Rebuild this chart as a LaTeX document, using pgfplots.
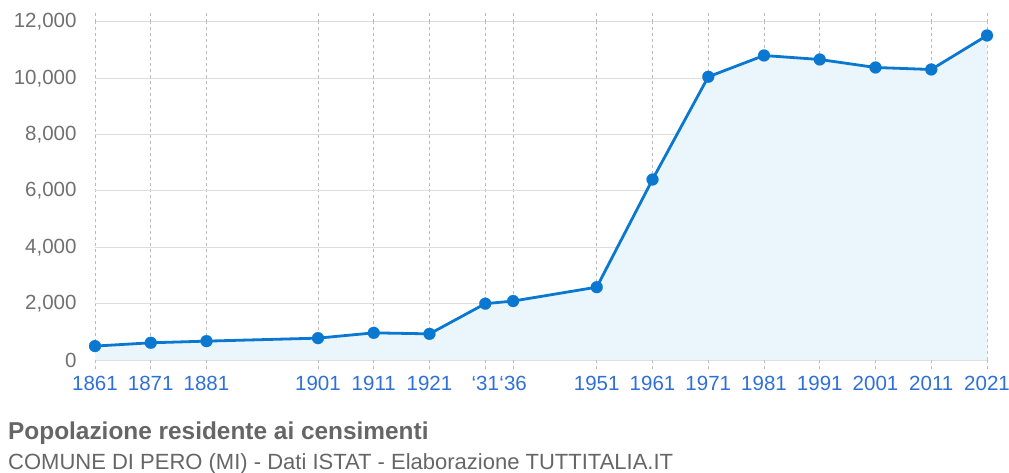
\documentclass[border=0pt]{standalone}
\usepackage{pgfplots}
\pgfplotsset{compat=1.18}
\usepackage{fontspec}
\setmainfont{Liberation Sans}
\definecolor{linec}{HTML}{0A78D0}
\definecolor{fillc}{HTML}{EAF5FC}
\definecolor{xlab}{HTML}{2F6FD8}
\definecolor{ylab}{HTML}{707070}
\definecolor{titc}{HTML}{666666}
\definecolor{gridc}{HTML}{DDDDDD}
\definecolor{vgrid}{HTML}{BBBBBB}
\begin{document}
\begin{tikzpicture}[x=1pt,y=1pt]
\useasboundingbox (0,0) rectangle (1009,472);
\begin{axis}[
  at={(95pt,112pt)}, anchor=south west,
  scale only axis, width=892pt, height=338pt,
  xmin=1861, xmax=2021, ymin=0, ymax=12000,
  axis line style={draw=none},
  xtick={1861,1871,1881,1901,1911,1921,1931,1936,1951,1961,1971,1981,1991,2001,2011,2021},
  xticklabels={1861,1871,1881,1901,1911,1921,{`31},{`36},1951,1961,1971,1981,1991,2001,2011,2021},
  ytick={0,2000,4000,6000,8000,10000,12000},
  scaled y ticks=false,
  /pgf/number format/assume math mode=true,
  yticklabel={\pgfmathprintnumber[1000 sep={,}]{\tick}},
  xmajorgrids, ymajorgrids,
  x grid style={vgrid, dashed, line width=0.8pt},
  y grid style={gridc, line width=1pt},
  tick align=outside,
  major tick length=9pt,
  xtick style={vgrid, dashed, line width=0.8pt},
  ytick style={draw=none},
  xticklabel style={font=\fontsize{20.5}{20.5}\selectfont, text=xlab, yshift=-4pt},
  yticklabel style={font=\fontsize{20.5}{20.5}\selectfont, text=ylab, xshift=-6pt},
  clip=false,
]
\addplot[fill=fillc, draw=none] coordinates {
(1861,494) (1871,611) (1881,670) (1901,776) (1911,964) (1921,928) (1931,2000) (1936,2093) (1951,2586) (1961,6408) (1971,10055) (1981,10811) (1991,10669) (2001,10385) (2011,10314) (2021,11521)
} \closedcycle;
\addplot[linec, line width=2.8pt, mark=*, mark size=6pt, mark options={fill=linec, draw=linec, line width=0.1pt}] coordinates {
(1861,494) (1871,611) (1881,670) (1901,776) (1911,964) (1921,928) (1931,2000) (1936,2093) (1951,2586) (1961,6408) (1971,10055) (1981,10811) (1991,10669) (2001,10385) (2011,10314) (2021,11521)
};
\end{axis}
\node[anchor=base west, inner sep=0pt, text=titc, font=\bfseries\fontsize{24.4}{24.4}\selectfont] at (8,33) {Popolazione residente ai censimenti};
\node[anchor=base west, inner sep=0pt, text=titc, font=\fontsize{22}{22}\selectfont] at (8,3) {COMUNE DI PERO (MI) - Dati ISTAT - Elaborazione TUTTITALIA.IT};
\end{tikzpicture}
\end{document}
